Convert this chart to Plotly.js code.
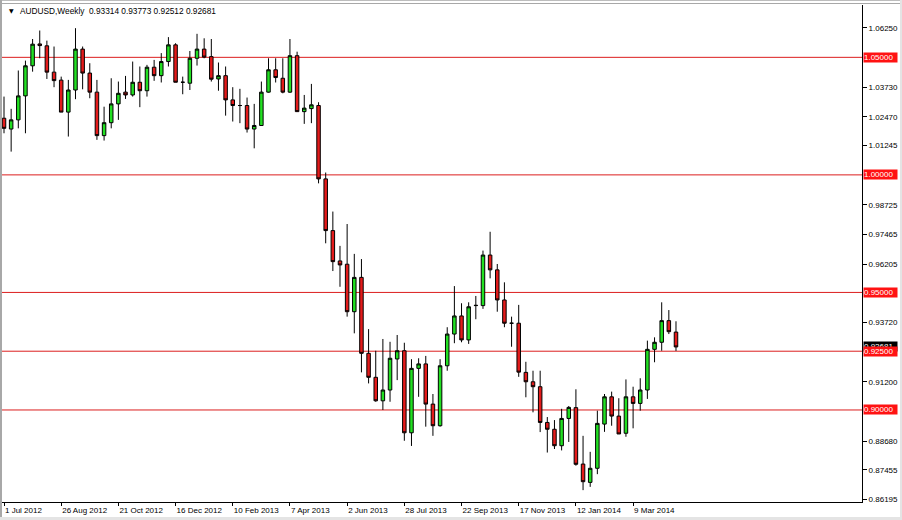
<!DOCTYPE html>
<html><head><meta charset="utf-8">
<script src="https://cdn.plot.ly/plotly-3.0.1.min.js"></script>
<style>
html,body{margin:0;padding:0;background:#fff;}
#wrap{position:relative;width:902px;height:520px;overflow:hidden;background:#fff;}
#chart{position:absolute;left:0;top:0;width:902px;height:520px;}
.fr{position:absolute;pointer-events:none;}
</style></head><body>
<div id="wrap"><div id="chart"></div>
<div class="fr" style="left:0;top:0;width:902px;height:1px;background:#bdbdbd"></div>
<div class="fr" style="left:0;top:3px;width:902px;height:1px;background:#a8a8a8"></div>
<div class="fr" style="left:0;top:0;width:2px;height:520px;background:#a8a8a8"></div>
<div class="fr" style="left:0;top:517px;width:902px;height:3px;background:#e4e4e4"></div>
<div class="fr" style="left:900px;top:0;width:2px;height:520px;background:#e4e4e4"></div>
</div>
<script>
// Weekly AUDUSD candles, first week starting 1 Jul 2012
const firstWeek = '2012-07-01';
const openP = [1.0241,1.0195,1.0234,1.0336,1.0464,1.0557,1.0549,1.0437,1.0403,1.0267,
1.0361,1.0535,1.0433,1.0352,1.0167,1.0222,1.0302,1.0352,1.0340,1.0394,
1.0358,1.0458,1.0422,1.0482,1.0553,1.0394,1.0390,1.0496,1.0535,1.0503,
1.0408,1.0422,1.0319,1.0295,1.0295,1.0195,1.0210,1.0352,1.0447,1.0411,
1.0352,1.0507,1.0269,1.0282,1.0295,0.9983,0.9763,0.9634,0.9620,0.9418,
0.9564,0.9241,0.9139,0.9039,0.9085,0.9217,0.9252,0.8903,0.9177,0.9196,
0.9025,0.8933,0.9188,0.9323,0.9400,0.9298,0.9444,0.9444,0.9659,0.9596,
0.9468,0.9369,0.9369,0.9160,0.9120,0.9099,0.8947,0.8918,0.8848,0.8964,
0.9010,0.8770,0.8692,0.8752,0.8940,0.9056,0.8974,0.8901,0.9056,0.9028,
0.9085,0.9258,0.9288,0.9380,0.93314];
const highP = [1.0333,1.0281,1.0444,1.0486,1.0578,1.0614,1.0571,1.0546,1.0418,1.0404,
1.0624,1.0546,1.0475,1.0404,1.0290,1.0411,1.0397,1.0421,1.0482,1.0461,
1.0468,1.0489,1.0518,1.0586,1.0560,1.0418,1.0527,1.0600,1.0581,1.0578,
1.0478,1.0461,1.0373,1.0366,1.0329,1.0302,1.0397,1.0496,1.0496,1.0496,
1.0578,1.0524,1.0340,1.0387,1.0309,1.0010,0.9844,0.9698,0.9791,0.9664,
0.9642,0.9344,0.9252,0.9302,0.9290,0.9319,0.9286,0.9216,0.9220,0.9230,
0.9068,0.9216,0.9352,0.9527,0.9454,0.9458,0.9485,0.9678,0.9758,0.9621,
0.9543,0.9397,0.9447,0.9205,0.9167,0.9167,0.8970,0.8957,0.9005,0.9017,
0.9088,0.8890,0.8822,0.8997,0.9068,0.9078,0.9050,0.9130,0.9099,0.9135,
0.9295,0.9309,0.9458,0.9425,0.93773];
const lowP = [1.0177,1.0099,1.0198,1.0177,1.0439,1.0496,1.0408,1.0373,1.0267,1.0163,
1.0322,1.0364,1.0326,1.0149,1.0146,1.0198,1.0234,1.0323,1.0333,1.0288,
1.0333,1.0400,1.0393,1.0461,1.0394,1.0343,1.0361,1.0465,1.0496,1.0397,
1.0358,1.0252,1.0227,1.0220,1.0180,1.0113,1.0208,1.0350,1.0393,1.0347,
1.0349,1.0269,1.0217,1.0220,0.9964,0.9709,0.9591,0.9524,0.9397,0.9326,
0.9160,0.9113,0.9035,0.9000,0.9035,0.9127,0.8869,0.8847,0.9056,0.8929,
0.8890,0.8929,0.9167,0.9284,0.9288,0.9281,0.9386,0.9430,0.9560,0.9418,
0.9352,0.9269,0.9141,0.9054,0.8990,0.8906,0.8819,0.8834,0.8828,0.8864,
0.8763,0.8659,0.8673,0.8727,0.8907,0.8933,0.8898,0.8886,0.8922,0.8997,
0.9047,0.9203,0.9252,0.9323,0.92512];
const closeP = [1.0198,1.0234,1.0336,1.0464,1.0556,1.0550,1.0437,1.0401,1.0267,1.0361,
1.0535,1.0433,1.0352,1.0167,1.0222,1.0302,1.0347,1.0340,1.0394,1.0358,
1.0458,1.0422,1.0482,1.0553,1.0394,1.0394,1.0496,1.0535,1.0501,1.0407,
1.0422,1.0319,1.0295,1.0295,1.0195,1.0210,1.0352,1.0447,1.0414,1.0352,
1.0507,1.0269,1.0284,1.0298,0.9983,0.9763,0.9631,0.9617,0.9418,0.9564,
0.9241,0.9139,0.9039,0.9085,0.9220,0.9252,0.8903,0.9177,0.9196,0.9025,
0.8933,0.9188,0.9323,0.9400,0.9298,0.9439,0.9445,0.9659,0.9596,0.9468,
0.9369,0.9369,0.9161,0.9120,0.9099,0.8947,0.8918,0.8848,0.8964,0.9011,
0.8769,0.8695,0.8752,0.8943,0.9056,0.8974,0.8898,0.9056,0.9028,0.9085,
0.9258,0.9288,0.9380,0.9333,0.92681];

const tickDates = ['2012-07-01','2012-08-26','2012-10-21','2012-12-16','2013-02-10','2013-04-07',
'2013-06-02','2013-07-28','2013-09-22','2013-11-17','2014-01-12','2014-03-09'];
const tickLabels = ['1 Jul 2012','26 Aug 2012','21 Oct 2012','16 Dec 2012','10 Feb 2013','7 Apr 2013',
'2 Jun 2013','28 Jul 2013','22 Sep 2013','17 Nov 2013','12 Jan 2014','9 Mar 2014'];
const priceTicks = [1.0625,1.0373,1.0247,1.01245,0.98725,0.97465,0.96205,0.9372,0.912,0.8868,0.87455,0.86195];
const priceTickLabels = ['1.06250','1.03730','1.02470','1.01245','0.98725','0.97465','0.96205','0.93720','0.91200','0.88680','0.87455','0.86195'];
const levels = [1.05,1.00,0.95,0.925,0.90];
const levelLabels = ['1.05000','1.00000','0.95000','0.92500','0.90000'];
const symbolName = 'AUDUSD,Weekly';
const lastBar = {o:'0.93314', h:'0.93773', l:'0.92512', c:'0.92681'};

const t0 = Date.parse(firstWeek + 'T00:00:00Z');
const weeks = openP.map((_, i) => new Date(t0 + i * 7 * 86400000).toISOString().slice(0, 10));

const FONT = 'Liberation Sans, Arial, sans-serif';
const trace = {
  type: 'candlestick',
  x: weeks, open: openP, high: highP, low: lowP, close: closeP,
  increasing: {line: {color: '#000000', width: 1}, fillcolor: '#22e022'},
  decreasing: {line: {color: '#000000', width: 1}, fillcolor: '#e41b1b'},
  hoverinfo: 'skip', showlegend: false
};

const shapes = levels.map(v => ({
  type: 'line', xref: 'paper', x0: 0, x1: 1, yref: 'y', y0: v, y1: v,
  line: {color: '#dc1e1e', width: 1}, layer: 'below'
}));

const annotations = [];
annotations.push({xref: 'paper', yref: 'paper', x: 1, y: closeP[closeP.length - 1], yref: 'y',
  xanchor: 'left', yanchor: 'middle', xshift: 1, text: lastBar.c, showarrow: false,
  bgcolor: '#000000', font: {family: FONT, size: 8, color: '#ffffff'},
  width: 33, height: 9, borderpad: 0, align: 'left'});
levels.forEach((v, i) => annotations.push({xref: 'paper', yref: 'y', x: 1, y: v,
  xanchor: 'left', yanchor: 'middle', xshift: 1, text: levelLabels[i], showarrow: false,
  bgcolor: '#ff1212', font: {family: FONT, size: 8, color: '#ffffff'},
  width: 33, height: 9, borderpad: 0, align: 'left'}));
annotations.push({xref: 'paper', yref: 'paper', x: 0.0058, y: 0.988, xanchor: 'left', yanchor: 'middle',
  text: '▼', showarrow: false, font: {family: 'DejaVu Sans', size: 6, color: '#000'}});
annotations.push({xref: 'paper', yref: 'paper', x: 0.0186, y: 0.988, xanchor: 'left', yanchor: 'middle',
  text: symbolName + '  ' + [lastBar.o, lastBar.h, lastBar.l, lastBar.c].join(' '), showarrow: false,
  font: {family: FONT, size: 8.3, color: '#000'}});

const layout = {
  width: 902, height: 520,
  margin: {l: 2, r: 40, t: 5, b: 18, pad: 0},
  paper_bgcolor: 'rgba(0,0,0,0)', plot_bgcolor: '#ffffff',
  showlegend: false, hovermode: false, dragmode: false,
  xaxis: {
    type: 'date', range: ['2012-06-29 01:00', '2014-10-19 03:20'],
    rangeslider: {visible: false},
    tickmode: 'array', tickvals: tickDates, ticktext: tickLabels,
    ticks: 'outside', ticklen: 3, tickcolor: '#000', tickwidth: 1,
    ticklabelposition: 'outside right',
    showgrid: false, zeroline: false, showline: true, linecolor: '#000', linewidth: 1,
    tickfont: {family: FONT, size: 8, color: '#000'}
  },
  yaxis: {
    side: 'right', range: [0.86086, 1.07226],
    tickmode: 'array', tickvals: priceTicks, ticktext: priceTickLabels,
    ticks: 'outside', ticklen: 4, tickcolor: '#000', tickwidth: 1,
    showgrid: false, zeroline: false, showline: true, linecolor: '#000', linewidth: 1,
    tickfont: {family: FONT, size: 8, color: '#000'}
  },
  shapes: shapes,
  annotations: annotations
};

Plotly.newPlot('chart', [trace], layout, {staticPlot: true, displayModeBar: false});
</script>
</body></html>
